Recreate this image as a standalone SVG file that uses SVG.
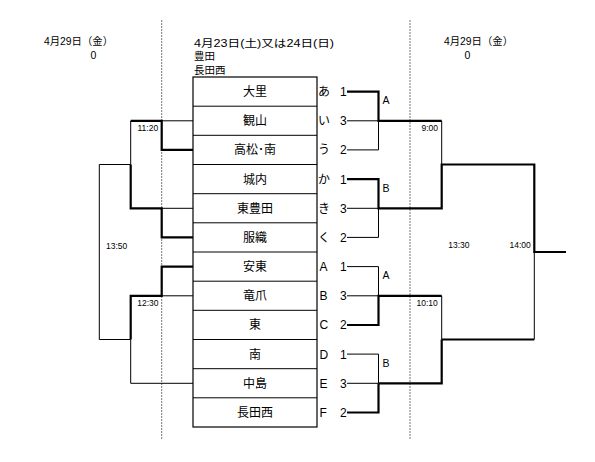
<svg xmlns="http://www.w3.org/2000/svg" width="595" height="462" viewBox="0 0 595 462">
<style>
text{font-family:"Liberation Sans","Noto Sans CJK JP",sans-serif;fill:#000}
.hd{font-size:10.5px}
.tm{font-size:8.5px}
.nm{font-size:12px;text-anchor:middle}
.lb{font-size:12px}
.br{font-size:10.5px}
.thin{fill:none;stroke:#000;stroke-width:1}
.thick{fill:none;stroke:#000;stroke-width:2.2}
.dot{fill:none;stroke:#777;stroke-width:1;stroke-dasharray:2,1}
.cell{fill:#fff;stroke:#000;stroke-width:1.2}
</style>
<rect width="595" height="462" fill="#fff"/>
<g id="headers">
<text class="hd" x="44" y="45" textLength="69" lengthAdjust="spacingAndGlyphs">4月29日（金）</text>
<text class="hd" x="93.3" y="59" text-anchor="middle">0</text>
<text class="hd" x="194" y="46.5" textLength="140" lengthAdjust="spacingAndGlyphs">4月23日(土)又は24日(日)</text>
<text class="hd" x="194" y="60">豊田</text>
<text class="hd" x="194" y="73.5">長田西</text>
<text class="hd" x="444" y="45" textLength="69" lengthAdjust="spacingAndGlyphs">4月29日（金）</text>
<text class="hd" x="467.3" y="59" text-anchor="middle">0</text>
</g>
<g id="dividers">
<line class="dot" x1="161.7" y1="20" x2="161.7" y2="440"/>
<line class="dot" x1="410" y1="20" x2="410" y2="440"/>
</g>
<g id="table">
<rect class="cell" x="193" y="77" width="124" height="350"/>
<path class="thin" d="M193,106.2H317M193,135.3H317M193,164.5H317M193,193.7H317M193,222.8H317M193,252H317M193,281.2H317M193,310.3H317M193,339.5H317M193,368.7H317M193,397.8H317" stroke-width="1.2"/>
</g>
<g id="team-0"><text class="nm" x="255" y="96">大里</text><text class="lb" x="318" y="96">あ</text><text class="lb" x="340" y="96">1</text></g>
<g id="team-1"><text class="nm" x="255" y="125.1">観山</text><text class="lb" x="318" y="125.1">い</text><text class="lb" x="340" y="125.1">3</text></g>
<g id="team-2"><text class="nm" x="255" y="154.3">高松･南</text><text class="lb" x="318" y="154.3">う</text><text class="lb" x="340" y="154.3">2</text></g>
<g id="team-3"><text class="nm" x="255" y="183.5">城内</text><text class="lb" x="318" y="183.5">か</text><text class="lb" x="340" y="183.5">1</text></g>
<g id="team-4"><text class="nm" x="255" y="212.6">東豊田</text><text class="lb" x="318" y="212.6">き</text><text class="lb" x="340" y="212.6">3</text></g>
<g id="team-5"><text class="nm" x="255" y="241.8">服織</text><text class="lb" x="318" y="241.8">く</text><text class="lb" x="340" y="241.8">2</text></g>
<g id="team-6"><text class="nm" x="255" y="271">安東</text><text class="lb" x="319.5" y="271">A</text><text class="lb" x="340" y="271">1</text></g>
<g id="team-7"><text class="nm" x="255" y="300.1">竜爪</text><text class="lb" x="319.5" y="300.1">B</text><text class="lb" x="340" y="300.1">3</text></g>
<g id="team-8"><text class="nm" x="255" y="329.3">東</text><text class="lb" x="319.5" y="329.3">C</text><text class="lb" x="340" y="329.3">2</text></g>
<g id="team-9"><text class="nm" x="255" y="358.5">南</text><text class="lb" x="319.5" y="358.5">D</text><text class="lb" x="340" y="358.5">1</text></g>
<g id="team-10"><text class="nm" x="255" y="387.6">中島</text><text class="lb" x="319.5" y="387.6">E</text><text class="lb" x="340" y="387.6">3</text></g>
<g id="team-11"><text class="nm" x="255" y="416.8">長田西</text><text class="lb" x="319.5" y="416.8">F</text><text class="lb" x="340" y="416.8">2</text></g>
<g id="labels">
<text class="br" x="382.5" y="104">A</text>
<text class="br" x="382.5" y="191.5">B</text>
<text class="br" x="382.5" y="279">A</text>
<text class="br" x="382.5" y="366.5">B</text>
<text class="tm" x="137.5" y="131">11:20</text>
<text class="tm" x="106" y="248.5">13:50</text>
<text class="tm" x="137.3" y="306">12:30</text>
<text class="tm" x="421.5" y="130.5">9:00</text>
<text class="tm" x="416.5" y="306">10:10</text>
<text class="tm" x="448.3" y="248">13:30</text>
<text class="tm" x="509.5" y="248">14:00</text>
</g>
<g id="connectors">
<path class="thin" d="M193,120.8H161.7M130.7,120.8V164.5M161.7,208.3H193M99.3,164.5H130.7M99.3,164.5V339.5H130.7M161.7,295.8H193M130.7,339.5V383.3H193"/>
<path class="thick" d="M193,149.9H161.7V120.8H130.7M130.7,164.5V208.3H161.7V237.4H193M193,266.6H161.7V295.8H130.7V339.5"/>
<path class="thin" d="M347,120.8H378.5V149.9H347M441.7,120.8V164.5M347,208.3H378.5V237.4H347M347,266.6H378.5V295.8H347M441.7,295.8V339.5M347,354.1H378.5V383.3H347M534.3,252V339.5"/>
<path class="thick" d="M347,91.6H378.5V120.8H441.7M347,179.1H378.5V208.3H441.7V164.5H534.3V252H566M347,325H378.5V295.8H441.7M441.7,339.5H534.3M441.7,339.5V383.3H378.5M378.5,383.3V412.5H347"/>
</g>
</svg>
